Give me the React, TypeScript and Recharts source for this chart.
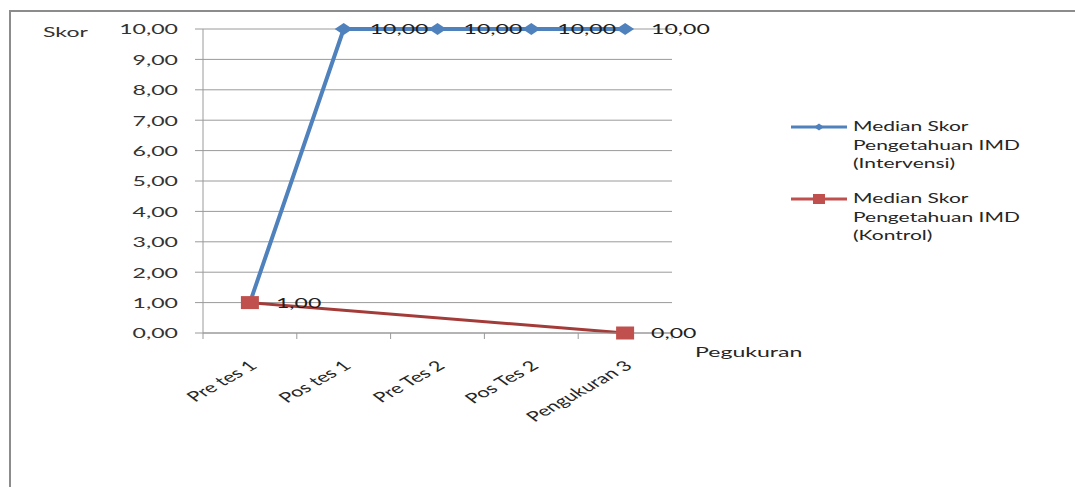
import React from 'react';
import { LineChart, Line, XAxis, YAxis, CartesianGrid, LabelList } from 'recharts';

const categories = ['Pre tes 1', 'Pos tes 1', 'Pre Tes 2', 'Pos Tes 2', 'Pengukuran 3'];
const intervensi = [1, 10, 10, 10, 10];
const kontrol: (number | null)[] = [1, null, null, null, 0];
const yTicks = [0, 1, 2, 3, 4, 5, 6, 7, 8, 9, 10];

const seriesNames = {
  intervensi: 'Median Skor Pengetahuan IMD (Intervensi)',
  kontrol: 'Median Skor Pengetahuan IMD (Kontrol)',
};

const data = categories.map((name, i) => ({
  name,
  intervensi: intervensi[i],
  kontrol: kontrol[i],
}));

const W = 1075;
const H = 487;
const MARGIN = { top: 29, right: 403, bottom: 54, left: 143 };
const Y_AXIS_W = 60;
const X_AXIS_H = 100;
const PLOT_W = W - MARGIN.left - MARGIN.right - Y_AXIS_W;
const BAND = PLOT_W / categories.length;

const BLUE = '#4f81bd';
const RED = '#c0504d';
const RED_LINE = '#a33c39';
const GRID = '#9a9a9a';
const FONT = 'Lato, "Open Sans", sans-serif';
const SX = 1.65; // text is drawn wide, like the old office export

const fmt = (v: number) => v.toFixed(2).replace('.', ',');

function StretchText({ x, y, children, anchor = 'start', angle = 0, fill = '#262626', size = 14, sx = SX }: any) {
  const rot = angle ? ` rotate(${angle})` : '';
  return (
    <text
      transform={`translate(${x},${y}) scale(${sx},1)${rot}`}
      textAnchor={anchor}
      dominantBaseline="central"
      fontFamily={FONT}
      fontSize={size}
      fill={fill}
    >
      {children}
    </text>
  );
}

const YTick = ({ x, y, payload }: any) => (
  <StretchText x={x} y={y} anchor="end" fill="#333">
    {fmt(payload.value)}
  </StretchText>
);

// category labels slanted, tick marks sit on the band edges
const XTick = ({ x, y, payload, index }: any) => (
  <g>
    <line x1={x - BAND / 2} x2={x - BAND / 2} y1={y} y2={y + 6} stroke={GRID} />
    {index === categories.length - 1 && (
      <line x1={x + BAND / 2} x2={x + BAND / 2} y1={y} y2={y + 6} stroke={GRID} />
    )}
    <StretchText x={x + 3} y={y + 30} anchor="end" angle={-41} sx={1.55} fill="#262626">
      {payload.value}
    </StretchText>
  </g>
);

const Diamond = ({ cx, cy, index }: any) =>
  cy == null ? <g key={`d${index}`} /> : (
    <polygon
      key={`d${index}`}
      points={`${cx},${cy - 6} ${cx + 9},${cy} ${cx},${cy + 6} ${cx - 9},${cy}`}
      fill={BLUE}
    />
  );

const Square = ({ cx, cy, index }: any) =>
  cy == null ? <g key={`s${index}`} /> : (
    <rect key={`s${index}`} x={cx - 9} y={cy - 6.5} width={18} height={13} fill={RED} />
  );

const valueLabel = (skipFirst: boolean) => (props: any) => {
  const { x, y, value, index } = props;
  if (value == null || (skipFirst && index === 0)) return null;
  return (
    <StretchText x={x + 26} y={y} fill="#1f1f1f">
      {fmt(value)}
    </StretchText>
  );
};

function LegendIcon({ color, line, kind }: { color: string; line: string; kind: 'diamond' | 'square' }) {
  return (
    <svg width={58} height={18} style={{ flex: 'none' }}>
      <line x1={0} x2={56} y1={9} y2={9} stroke={line} strokeWidth={3} />
      {kind === 'diamond' ? (
        <polygon points="28,5.5 33,9 28,12.5 23,9" fill={color} />
      ) : (
        <rect x={22} y={4} width={12} height={10} fill={color} />
      )}
    </svg>
  );
}

function SideLegend() {
  const items = [
    { name: seriesNames.intervensi, color: BLUE, line: BLUE, kind: 'diamond' as const },
    { name: seriesNames.kontrol, color: RED, line: RED, kind: 'square' as const },
  ];
  return (
    <div style={{ position: 'absolute', left: 791, top: 117, fontFamily: FONT, fontSize: 14, color: '#262626' }}>
      {items.map((it, k) => (
        <div key={k} style={{ display: 'flex', alignItems: 'flex-start', marginBottom: k === 0 ? 16.5 : 0 }}>
          <div style={{ paddingTop: 0.5 }}>
            <LegendIcon color={it.color} line={it.line} kind={it.kind} />
          </div>
          <div style={{ marginLeft: 4 }}>
            {it.name.split(/ (?=Pengetahuan|\()/).map((ln, j) => (
              <div
                key={j}
                style={{ lineHeight: '18.5px', whiteSpace: 'nowrap', transform: 'scaleX(1.5)', transformOrigin: 'left' }}
              >
                {ln}
              </div>
            ))}
          </div>
        </div>
      ))}
    </div>
  );
}

export default function App() {
  return (
    <div style={{ position: 'absolute', left: 0, top: 0, width: W, height: H, background: '#fff', overflow: 'hidden' }}>
      <div
        style={{
          position: 'absolute',
          left: 9,
          top: 10,
          width: W,
          height: H,
          borderLeft: '2px solid #8c8c8c',
          borderTop: '2px solid #8c8c8c',
        }}
      />
      <div style={{ position: 'absolute', left: 0, top: 0 }}>
        <LineChart width={W} height={H} data={data} margin={MARGIN}>
          <CartesianGrid horizontal vertical={false} stroke={GRID} />
          <XAxis
            dataKey="name"
            height={X_AXIS_H}
            interval={0}
            padding={{ left: BAND / 2, right: BAND / 2 }}
            tickLine={false}
            tickSize={0}
            tickMargin={0}
            axisLine={{ stroke: GRID }}
            tick={<XTick />}
            label={{
              content: ({ viewBox }: any) => (
                <StretchText x={viewBox.x + viewBox.width + 23} y={viewBox.y + 19} fill="#262626">
                  Pegukuran
                </StretchText>
              ),
            }}
          />
          <YAxis
            width={Y_AXIS_W}
            domain={[0, 10]}
            ticks={yTicks}
            interval={0}
            tickSize={8}
            tickMargin={17}
            tickLine={{ stroke: GRID }}
            axisLine={{ stroke: GRID }}
            tick={<YTick />}
            label={{
              content: ({ viewBox }: any) => (
                <StretchText x={viewBox.x - 100} y={viewBox.y + 3} fill="#333">
                  Skor
                </StretchText>
              ),
            }}
          />
          <Line
            dataKey="intervensi"
            name={seriesNames.intervensi}
            type="linear"
            stroke={BLUE}
            strokeWidth={4}
            dot={Diamond}
            activeDot={false}
            isAnimationActive={false}
          >
            <LabelList dataKey="intervensi" content={valueLabel(true)} />
          </Line>
          <Line
            dataKey="kontrol"
            name={seriesNames.kontrol}
            type="linear"
            stroke={RED_LINE}
            strokeWidth={3}
            connectNulls
            dot={Square}
            activeDot={false}
            isAnimationActive={false}
          >
            <LabelList dataKey="kontrol" content={valueLabel(false)} />
          </Line>
        </LineChart>
      </div>
      <SideLegend />
    </div>
  );
}
